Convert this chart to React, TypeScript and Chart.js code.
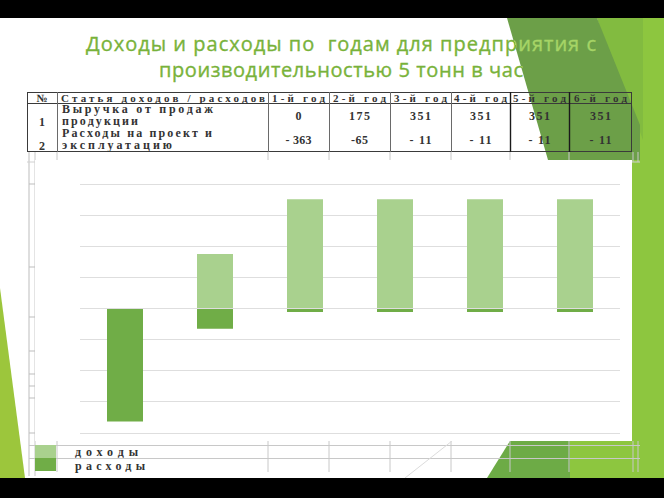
import React, { useEffect, useRef } from 'react';
import { Chart, registerables } from 'chart.js';

Chart.register(...registerables);

// ---------- data ----------
const categories = ['1-й год', '2-й год', '3-й год', '4-й год', '5-й год', '6-й год'];
const income = [0, 175, 351, 351, 351, 351];
const expenses = [-363, -65, -11, -11, -11, -11];
const seriesNames = ['доходы', 'расходы'];
const seriesColors = ['#a9d18e', '#70ad47'];
const yMin = -400;
const yMax = 400;
const yStep = 100;
const titleLines = ['Доходы и расходы по  годам для предприятия с', 'производительностью 5 тонн в час'];
const headerLabels = ['№', 'Статья доходов / расходов'];
const rowNumbers = ['1', '2'];
const rowLabels = [
  ['Выручка от продаж', 'продукции'],
  ['Расходы на проект и', 'эксплуатацию'],
];

const fmt = (v: number) => (v < 0 ? '- ' + Math.abs(v) : String(v));

const SERIF = '"Liberation Serif", "DejaVu Serif", serif';

function T(props: { x: number; y: number; len?: number; anchor?: string; children: any; size?: number }) {
  const { x, y, len, anchor, children, size } = props;
  return (
    <text
      x={x}
      y={y}
      textAnchor={anchor || 'start'}
      fontFamily={SERIF}
      fontWeight="bold"
      fontSize={size || 12}
      fill="#333333"
      textLength={len}
      lengthAdjust={len ? 'spacing' : undefined}
    >
      {children}
    </text>
  );
}

export default function App() {
  const ref = useRef<HTMLCanvasElement>(null);

  useEffect(() => {
    const chart = new Chart(ref.current as HTMLCanvasElement, {
      type: 'bar',
      data: {
        labels: categories,
        datasets: [
          {
            label: seriesNames[0],
            data: income,
            backgroundColor: seriesColors[0],
            borderWidth: 0,
            categoryPercentage: 1,
            barPercentage: 0.4,
          },
          {
            label: seriesNames[1],
            data: expenses,
            backgroundColor: seriesColors[1],
            borderWidth: 0,
            categoryPercentage: 1,
            barPercentage: 0.4,
          },
        ],
      },
      options: {
        animation: false,
        responsive: true,
        maintainAspectRatio: false,
        layout: { padding: { left: 45, right: 12, top: 24, bottom: 8 } },
        plugins: {
          legend: { display: false },
          tooltip: { enabled: false },
        },
        scales: {
          x: { stacked: true, display: false },
          y: {
            stacked: true,
            min: yMin,
            max: yMax,
            ticks: { display: false, stepSize: yStep },
            grid: { color: '#dedede', lineWidth: 1, drawTicks: false },
            border: { display: false },
            afterFit: (s: any) => {
              s.width = 0;
            },
          },
        },
      },
    } as any);
    return () => chart.destroy();
  }, []);

  const colX = [27, 57, 268, 329, 390, 451, 510, 569, 632];
  const colCenter = (i: number) => (colX[i + 2] + colX[i + 3]) / 2;
  const gridV = [57, 268, 329, 390, 451, 510, 569, 633, 638];
  const titleFont = '"Open Sans", "DejaVu Sans", sans-serif';

  return (
    <div
      style={{
        position: 'absolute',
        left: 0,
        top: 0,
        width: 664,
        height: 498,
        overflow: 'hidden',
        background: '#ffffff',
      }}
    >
      <svg
        width={664}
        height={498}
        style={{ position: 'absolute', left: 0, top: 0 }}
        xmlns="http://www.w3.org/2000/svg"
      >
        <defs>
          <linearGradient id="tg" gradientUnits="userSpaceOnUse" x1={224} y1={96} x2={792} y2={-60}>
            <stop offset="0.5" stopColor="#78b23a" />
            <stop offset="0.5" stopColor="#a6d466" />
          </linearGradient>
        </defs>
        <rect x={0} y={0} width={664} height={498} fill="#ffffff" />
        {/* decorative theme shapes */}
        <polygon points="597,18 664,18 664,478 568,478 568,441 632,441 632,160 640,160" fill="#8dc63f" />
        <polygon points="597,18 643,18 643,140" fill="#82bb40" />
        <polygon points="507,18 597,18 640,125 640,160 548,160" fill="#6c9f48" />
        <polygon points="510,441 570,441 570,478 487,478" fill="#6dab46" />
        <polygon points="0,288 25,478 0,478" fill="#9cc63c" />

        {/* title */}
        <text
          x={341}
          y={51}
          textAnchor="middle"
          fontFamily={titleFont}
          fontSize={20}
          fill="url(#tg)"
          stroke="url(#tg)"
          strokeWidth={0.35}
          textLength={510}
          lengthAdjust="spacing"
          style={{ whiteSpace: 'pre' }}
        >
          {titleLines[0]}
        </text>
        <text
          x={341}
          y={77}
          textAnchor="middle"
          fontFamily={titleFont}
          fontSize={20}
          fill="url(#tg)"
          stroke="url(#tg)"
          strokeWidth={0.35}
          textLength={364}
          lengthAdjust="spacing"
        >
          {titleLines[1]}
        </text>

        {/* table grid */}
        <line x1={29} y1={152} x2={29} y2={476} stroke="#bdbdbd" strokeWidth={1} />
        <line x1={35} y1={152} x2={35} y2={476} stroke="#c8c8c8" strokeWidth={1} />
        {[184, 267, 317, 351, 374, 386, 398, 433].map((y) => (
          <line key={'lt' + y} x1={29} y1={y} x2={35} y2={y} stroke="#bdbdbd" strokeWidth={1} />
        ))}
        <line x1={27} y1={162} x2={640} y2={162} stroke="#d0d0d0" strokeWidth={1} />
        {gridV.map((x) => (
          <line key={'gt' + x} x1={x} y1={152} x2={x} y2={162} stroke="#c8c8c8" strokeWidth={1} />
        ))}
        <rect x={27.5} y={92.5} width={604} height={59} fill="none" stroke="#3a3a3a" strokeWidth={1} />
        <line x1={27} y1={103.5} x2={632} y2={103.5} stroke="#3a3a3a" strokeWidth={1} />
        {colX.slice(1, 8).map((x, i) => (
          <line
            key={'cv' + x}
            x1={x + 0.5}
            y1={92}
            x2={x + 0.5}
            y2={152}
            stroke={i >= 5 ? '#1a1a1a' : '#6a6a6a'}
            strokeWidth={i >= 5 ? 1.4 : 1}
          />
        ))}

        {/* table text */}
        <T x={42} y={101.5} anchor="middle" size={11}>{headerLabels[0]}</T>
        <T x={61} y={101.5} len={204} size={11}>{headerLabels[1]}</T>
        {categories.map((c, i) => (
          <T key={'h' + c} x={colCenter(i)} y={101.5} anchor="middle" len={53} size={11}>
            {c}
          </T>
        ))}
        <T x={62} y={113} len={151}>{rowLabels[0][0]}</T>
        <T x={62} y={125} len={76}>{rowLabels[0][1]}</T>
        <T x={42} y={126} anchor="middle">{rowNumbers[0]}</T>
        <T x={62} y={137} len={150}>{rowLabels[1][0]}</T>
        <T x={62} y={149} len={110}>{rowLabels[1][1]}</T>
        <T x={42} y={150} anchor="middle">{rowNumbers[1]}</T>
        {income.map((v, i) => (
          <T key={'iv' + i} x={colCenter(i)} y={120} anchor="middle" len={v === 0 ? undefined : 21}>
            {fmt(v)}
          </T>
        ))}
        {expenses.map((v, i) => (
          <T
            key={'ev' + i}
            x={colCenter(i)}
            y={144}
            anchor="middle"
            len={String(Math.abs(v)).length === 3 ? 26 : v <= -50 ? 17 : 22}
          >
            {v <= -50 && v > -100 ? '-' + Math.abs(v) : fmt(v)}
          </T>
        ))}

        {/* grid under the chart */}
        <line x1={29} y1={445.5} x2={640} y2={445.5} stroke="#c8c8c8" strokeWidth={1} />
        <line x1={29} y1={458.5} x2={640} y2={458.5} stroke="#c8c8c8" strokeWidth={1} />
        {gridV.map((x) => (
          <line key={'gb' + x} x1={x} y1={441} x2={x} y2={472} stroke="#c8c8c8" strokeWidth={1} />
        ))}
        <line x1={405} y1={478} x2={452} y2={441} stroke="#dcdcdc" strokeWidth={1} />

        {/* legend */}
        <rect x={35} y={445} width={21} height={13} fill={seriesColors[0]} />
        <rect x={35} y={458} width={21} height={13} fill={seriesColors[1]} />
        <T x={75} y={456} len={63}>{seriesNames[0]}</T>
        <T x={75} y={470} len={70}>{seriesNames[1]}</T>

        {/* slide frame bands */}
        <rect x={0} y={0} width={664} height={18} fill="#000000" />
        <rect x={0} y={478} width={664} height={20} fill="#000000" />
      </svg>

      <div
        style={{
          position: 'absolute',
          left: 35,
          top: 160,
          width: 597,
          height: 281,
          background: '#ffffff',
        }}
      >
        <canvas ref={ref} />
      </div>
    </div>
  );
}
